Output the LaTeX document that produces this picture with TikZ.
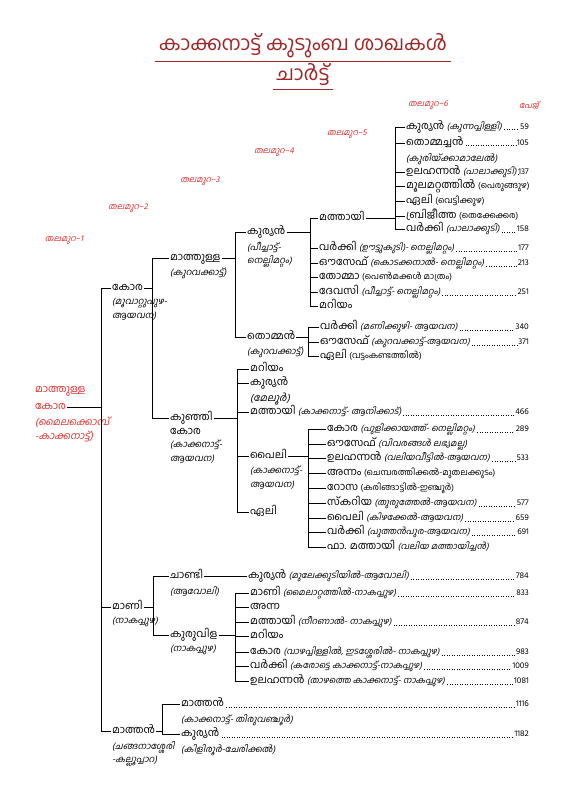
\documentclass[tikz,border=0pt]{standalone}
\usepackage{fontspec}
\setmainfont[Script=Malayalam]{Hind Kochi}
\newfontfamily\mlit[Script=Malayalam,FakeSlant=0.22]{Hind Kochi}
\usepackage{tikz}
\usetikzlibrary{positioning}
\definecolor{ttlred}{RGB}{160,38,38}
\definecolor{genred}{RGB}{226,44,44}
\newcommand{\smr}[1]{{\fontsize{8.6}{9}\selectfont #1}}
\newcommand{\smi}[1]{{\mlit\fontsize{8.8}{9}\selectfont #1}}

\begin{document}
\begin{tikzpicture}[x=1pt, y=-1pt,
  font=\fontsize{10.5}{12}\selectfont,
  nm/.style={anchor=west, inner sep=1pt, text height=7.5pt, text depth=2pt},
  sub/.style={anchor=north west, inner sep=1pt, align=left, yshift=-3pt,
              font=\mlit\fontsize{9}{13.5}\selectfont},
  pg/.style={anchor=east, inner sep=1pt, text height=7.5pt, text depth=2pt,
             font=\fontsize{8.5}{10}\selectfont},
  gen/.style={text=genred, font=\mlit\fontsize{8.5}{10}\selectfont},
  tree/.style={line width=0.7pt},
  lead/.style={dotted, line width=0.5pt}]

  \useasboundingbox (0,0) rectangle (576,810);

  % title
  \node[text=ttlred, font=\fontsize{20}{24}\selectfont] (title) at (303,46)
    {കാക്കനാട്ട് കുടുംബ ശാഖകൾ};
  \node[text=ttlred, font=\fontsize{20}{24}\selectfont] (chart) at (303,75)
    {ചാർട്ട്};
  \draw[ttlred, line width=0.8pt] (title.south west) -- (title.south east);
  \draw[ttlred, line width=0.8pt] (chart.south west) -- (chart.south east);

  % generation heads
  \node[gen] (gen1) at (64,240) {തലമുറ–1};
  \node[gen] (gen2) at (128,208) {തലമുറ–2};
  \node[gen] (gen3) at (200,181) {തലമുറ–3};
  \node[gen] (gen4) at (274,152) {തലമുറ–4};
  \node[gen] (gen5) at (347,134) {തലമുറ–5};
  \node[gen] (gen6) at (428,105) {തലമുറ–6};
  \node[gen] (page) at (529,105) {പേജ്};

  % bars
  \coordinate (b2) at (101,0);
  \coordinate (b3a) at (152,0);
  \coordinate (b3b) at (153,0);
  \coordinate (b3c) at (162,0);
  \coordinate (b4a) at (235,0);
  \coordinate (b4b) at (237,0);
  \coordinate (b4c) at (235,0);
  \coordinate (b5a) at (310,0);
  \coordinate (b5b) at (308,0);
  \coordinate (b5c) at (308,0);
  \coordinate (b6) at (395,0);

  % root
  \node[nm, text=genred] (rtop) at (34,390) {മാത്തുള്ള};
  \node[nm, text=genred] (root) at (34,407) {കോര};
  \node[sub, text=genred, font=\mlit\fontsize{10}{14}\selectfont] (roots) at (root.south west)
    {(മൈലക്കൊമ്പ്\\-കാക്കനാട്ട്)};

  % generation 2
  \node[nm] (kora) at (111,288) {കോര};
  \node[sub] (koras) at (kora.south west) {(മൂവാറ്റുപുഴ-\\ആയവന)};
  \node[nm] (mani) at (111,607) {മാണി};
  \node[sub] (manis) at (mani.south west) {(നാകപ്പുഴ)};
  \node[nm] (mathan) at (111,731) {മാത്തൻ};
  \node[sub] (mathans) at (mathan.south west) {(ചങ്ങനാശ്ശേരി\\-കല്ലൂപ്പാറ)};

  % generation 3
  \node[nm] (mathulla) at (169,258) {മാത്തുള്ള};
  \node[sub] (mathullas) at (mathulla.south west) {(കുറവക്കാട്ട്)};
  \node[nm] (kunji) at (169,418) {കുഞ്ഞി};
  \node[sub] (kunjis) at (kunji.south west)
    {{\normalfont\fontsize{10.5}{12}\selectfont കോര}\\(കാക്കനാട്ട്-\\ആയവന)};
  \node[nm] (chandi) at (169,576) {ചാണ്ടി};
  \node[sub] (chandis) at (chandi.south west) {(ആവോലി)};
  \node[nm] (kuruvila) at (169,635) {കുരുവിള};
  \node[sub] (kuruvilas) at (kuruvila.south west) {(നാകപ്പുഴ)};
  \node[nm] (mathan3) at (180,704) {മാത്തൻ};
  \node[pg] (p1116) at (530,704) {1116};
  \node[sub] (mathan3s) at (mathan3.south west) {(കാക്കനാട്ട്- തിരുവഞ്ചൂർ)};
  \node[nm] (kurian3) at (180,734) {കുര്യൻ};
  \node[pg] (p1182) at (530,734) {1182};
  \node[sub] (kurian3s) at (kurian3.south west) {(കിളിരൂർ-ചേരിക്കൽ)};

  % generation 4
  \node[nm] (kurian) at (246,232) {കുര്യൻ};
  \node[sub] (kurians) at (kurian.south west) {(പീച്ചാട്ട്-\\നെല്ലിമറ്റം)};
  \node[nm] (thomman) at (246,337) {തൊമ്മൻ};
  \node[sub] (thommans) at (thomman.south west) {(കുറവക്കാട്ട്)};

  \node[nm] (mariyam4) at (249,369) {മറിയം};
  \node[nm] (kurian4) at (249,383) {കുര്യൻ};
  \node[sub, font=\mlit\fontsize{10}{12}\selectfont] (kurian4s) at (kurian4.south west) {(മേലൂർ)};
  \node[nm] (mathai4) at (249,412) {മത്തായി \smi{(കാക്കനാട്ട്- ആനിക്കാട്)}};
  \node[pg] (p466) at (530,412) {466};
  \node[nm] (paily) at (249,456) {പൈലി};
  \node[sub] (pailys) at (paily.south west) {(കാക്കനാട്ട്-\\ആയവന)};
  \node[nm] (eli4) at (249,512) {ഏലി};

  \node[nm] (kurian4c) at (247,576) {കുര്യൻ \smi{(മുലേക്കുടിയിൽ-ആവോലി)}};
  \node[pg] (p784) at (530,576) {784};

  \node[nm] (mani4) at (249,593) {മാണി \smi{(മൈലാറ്റത്തിൽ-നാകപ്പുഴ)}};
  \node[pg] (p833) at (530,593) {833};
  \node[nm] (anna4) at (249,607) {അന്ന};
  \node[nm] (mathai4c) at (249,622) {മത്തായി \smi{(നീറണാൽ- നാകപ്പുഴ)}};
  \node[pg] (p874) at (530,622) {874};
  \node[nm] (mariyam4c) at (249,636) {മറിയം};
  \node[nm] (kora4c) at (249,652) {കോര \smi{(വാഴപ്പിള്ളിൽ, ഇടശ്ശേരിൽ- നാകപ്പുഴ)}};
  \node[pg] (p983) at (530,652) {983};
  \node[nm] (varkey4c) at (249,666) {വർക്കി \smi{(കരോട്ടെ കാക്കനാട്ട്-നാകപ്പുഴ)}};
  \node[pg] (p1009) at (530,666) {1009};
  \node[nm] (ulahannan4c) at (249,681) {ഉലഹന്നൻ \smi{(താഴത്തെ കാക്കനാട്ട്- നാകപ്പുഴ)}};
  \node[pg] (p1081) at (530,681) {1081};

  % generation 5
  \node[nm] (mathai5) at (318,218) {മത്തായി};
  \node[nm] (varkey5) at (318,248) {വർക്കി \smi{(ഊട്ടുകുടി)- നെല്ലിമറ്റം)}};
  \node[pg] (p177) at (530,248) {177};
  \node[nm] (ouseph5) at (318,263) {ഔസേഫ് \smi{(കൊടക്കനാൽ- നെല്ലിമറ്റം)}};
  \node[pg] (p213) at (530,263) {213};
  \node[nm] (thomma5) at (318,277) {തോമ്മാ \smr{(പെൺമക്കൾ മാത്രം)}};
  \node[nm] (devasi5) at (318,292) {ദേവസി \smi{(പീച്ചാട്ട്- നെല്ലിമറ്റം)}};
  \node[pg] (p251) at (530,292) {251};
  \node[nm] (mariyam5) at (318,306) {മറിയം};

  \node[nm] (varkey5b) at (319,327) {വർക്കി \smi{(മണിക്കുഴി- ആയവന)}};
  \node[pg] (p340) at (530,327) {340};
  \node[nm] (ouseph5b) at (319,342) {ഔസേഫ് \smi{(കുറവക്കാട്ട്-ആയവന)}};
  \node[pg] (p371) at (530,342) {371};
  \node[nm] (eli5b) at (319,356) {ഏലി \smr{(വട്ടംകണ്ടത്തിൽ)}};

  \node[nm] (kora5c) at (326,429) {കോര \smi{(പുളിക്കായത്ത്- നെല്ലിമറ്റം)}};
  \node[pg] (p289) at (530,429) {289};
  \node[nm] (ouseph5c) at (326,444) {ഔസേഫ് \smi{(വിവരങ്ങൾ ലഭ്യമല്ല)}};
  \node[nm] (ulahannan5c) at (326,458) {ഉലഹന്നൻ \smi{(വലിയവീട്ടിൽ-ആയവന)}};
  \node[pg] (p533) at (530,458) {533};
  \node[nm] (annam5c) at (326,473) {അന്നം \smr{(ചെമ്പരത്തിക്കൽ-മുതലക്കുടം)}};
  \node[nm] (rosa5c) at (326,488) {റോസ \smr{(കരിങ്ങാട്ടിൽ-ഇഞ്ചൂർ)}};
  \node[nm] (skaria5c) at (326,503) {സ്കറിയ \smi{(തുരുത്തേൽ-ആയവന)}};
  \node[pg] (p577) at (530,503) {577};
  \node[nm] (paily5c) at (326,518) {പൈലി \smi{(കിഴക്കേൽ-ആയവന)}};
  \node[pg] (p659) at (530,518) {659};
  \node[nm] (varkey5c) at (326,532) {വർക്കി \smi{(പുത്തൻപുര-ആയവന)}};
  \node[pg] (p691) at (530,532) {691};
  \node[nm] (fr5c) at (326,547) {ഫാ. മത്തായി \smi{(വലിയ മത്തായിച്ചൻ)}};

  % generation 6
  \node[nm] (kurian6) at (405,127) {കുര്യൻ \smi{(കുന്നപ്പിള്ളി)}};
  \node[pg] (p59) at (530,127) {59};
  \node[nm] (thommachan6) at (405,143) {തൊമ്മച്ചൻ};
  \node[pg] (p105) at (530,143) {105};
  \node[sub] (thommachan6s) at (thommachan6.south west) {(കുരിയ്ക്കാമാലേൽ)};
  \node[nm] (ulahannan6) at (405,172) {ഉലഹന്നൻ \smi{(പാലാക്കുടി)}};
  \node[pg] (p137) at (530,172) {137};
  \node[nm] (moola6) at (405,186) {മൂലമറ്റത്തിൽ \smr{(പെരുങ്ങുഴ)}};
  \node[nm] (eli6) at (405,201) {ഏലി \smr{(വെട്ടിക്കുഴ)}};
  \node[nm] (brijitha6) at (405,216) {ബ്രിജീത്ത \smr{(തെക്കേക്കര)}};
  \node[nm] (varkey6) at (405,229) {വർക്കി \smi{(പാലാക്കുടി)}};
  \node[pg] (p158) at (530,229) {158};

  % leaders
  \foreach \a/\b in {kurian6/p59, thommachan6/p105, ulahannan6/p137, varkey6/p158,
      varkey5/p177, ouseph5/p213, devasi5/p251, varkey5b/p340, ouseph5b/p371,
      mathai4/p466, kora5c/p289, ulahannan5c/p533, skaria5c/p577, paily5c/p659,
      varkey5c/p691, kurian4c/p784, mani4/p833, mathai4c/p874, kora4c/p983,
      varkey4c/p1009, ulahannan4c/p1081, mathan3/p1116, kurian3/p1182}
    \draw[lead] ([xshift=1pt]\a.base east) -- (\b.base west);

  % tree lines
  \draw[tree] (root.east) -- (b2 |- root.east);
  \draw[tree] (b2 |- kora.west) -- (b2 |- mathan.west);
  \foreach \c in {kora, mani, mathan}
    \draw[tree] (b2 |- \c.west) -- (\c.west);

  \draw[tree] (kora.east) -- (b3a |- kora.east);
  \draw[tree] (b3a |- mathulla.west) -- (b3a |- kunji.west);
  \foreach \c in {mathulla, kunji}
    \draw[tree] (b3a |- \c.west) -- (\c.west);

  \draw[tree] (mani.east) -- (b3b |- mani.east);
  \draw[tree] (b3b |- chandi.west) -- (b3b |- kuruvila.west);
  \foreach \c in {chandi, kuruvila}
    \draw[tree] (b3b |- \c.west) -- (\c.west);

  \draw[tree] (mathan.east) -- (b3c |- mathan.east);
  \draw[tree] (b3c |- mathan3.west) -- (b3c |- kurian3.west);
  \foreach \c in {mathan3, kurian3}
    \draw[tree] (b3c |- \c.west) -- (\c.west);

  \draw[tree] (mathulla.east) -- (b4a |- mathulla.east);
  \draw[tree] (b4a |- kurian.west) -- (b4a |- thomman.west);
  \foreach \c in {kurian, thomman}
    \draw[tree] (b4a |- \c.west) -- (\c.west);

  \draw[tree] (kunji.east) -- (b4b |- kunji.east);
  \draw[tree] (b4b |- mariyam4.west) -- (b4b |- eli4.west);
  \foreach \c in {mariyam4, kurian4, mathai4, paily, eli4}
    \draw[tree] (b4b |- \c.west) -- (\c.west);

  \draw[tree] (chandi.east) -- (kurian4c.west);

  \draw[tree] (kuruvila.east) -- (b4c |- kuruvila.east);
  \draw[tree] (b4c |- mani4.west) -- (b4c |- ulahannan4c.west);
  \foreach \c in {mani4, anna4, mathai4c, mariyam4c, kora4c, varkey4c, ulahannan4c}
    \draw[tree] (b4c |- \c.west) -- (\c.west);

  \draw[tree] (kurian.east) -- (b5a |- kurian.east);
  \draw[tree] (b5a |- mathai5.west) -- (b5a |- mariyam5.west);
  \foreach \c in {mathai5, varkey5, ouseph5, thomma5, devasi5, mariyam5}
    \draw[tree] (b5a |- \c.west) -- (\c.west);

  \draw[tree] (thomman.east) -- (b5b |- thomman.east);
  \draw[tree] (b5b |- varkey5b.west) -- (b5b |- eli5b.west);
  \foreach \c in {varkey5b, ouseph5b, eli5b}
    \draw[tree] (b5b |- \c.west) -- (\c.west);

  \draw[tree] (paily.east) -- (b5c |- paily.east);
  \draw[tree] (b5c |- kora5c.west) -- (b5c |- fr5c.west);
  \foreach \c in {kora5c, ouseph5c, ulahannan5c, annam5c, rosa5c, skaria5c,
      paily5c, varkey5c, fr5c}
    \draw[tree] (b5c |- \c.west) -- (\c.west);

  \draw[tree] (mathai5.east) -- (b6 |- mathai5.east);
  \draw[tree] (b6 |- kurian6.west) -- (b6 |- varkey6.west);
  \foreach \c in {kurian6, thommachan6, ulahannan6, moola6, eli6, brijitha6, varkey6}
    \draw[tree] (b6 |- \c.west) -- (\c.west);
\end{tikzpicture}
\end{document}
